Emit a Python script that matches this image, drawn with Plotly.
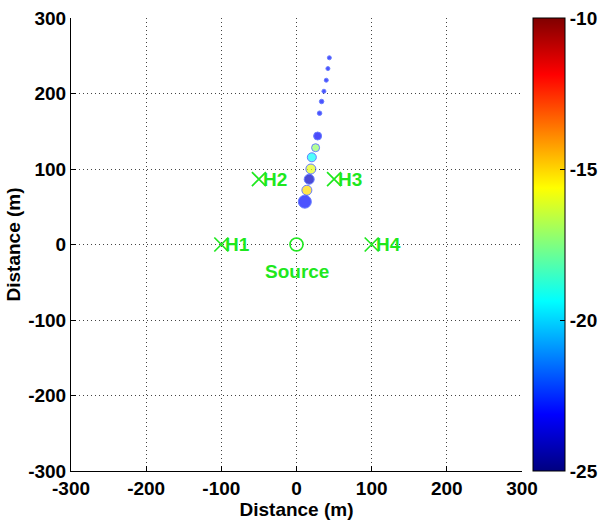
import plotly.graph_objects as go

# Event locations (m) and their magnitude values
event_x = [43.7, 41.8, 39.6, 36.5, 33.4, 30.7, 28.1, 25.4, 20.4, 19.1, 16.9, 13.8, 11.1]
event_y = [247.3, 233.0, 217.6, 203.0, 189.4, 173.9, 143.7, 128.2, 115.5, 100.0, 86.4, 71.9, 56.7]
event_val = [-23.0, -23.0, -23.0, -23.0, -23.0, -23.0, -23.2, -17.2, -19.3, -16.0, -24.0, -15.1, -23.0]
event_size = [4, 4, 4, 4, 4.5, 4.5, 8, 8, 9, 10, 10, 10, 13]

# Monitoring wells and source
well_names = ["H1", "H2", "H3", "H4"]
well_x = [-100, -50, 50, 100]
well_y = [0, 86.6, 86.6, 0]
source_x = [0]
source_y = [0]

axis_ticks = [-300, -200, -100, 0, 100, 200, 300]
cbar_ticks = [-25, -20, -15, -10]

jet = [
    [0.0, "rgb(0,0,128)"],
    [0.125, "rgb(0,0,255)"],
    [0.375, "rgb(0,255,255)"],
    [0.625, "rgb(255,255,0)"],
    [0.875, "rgb(255,0,0)"],
    [1.0, "rgb(128,0,0)"],
]

GREEN = "#1ee81e"
FONT = "Liberation Sans"
FS = 19


def bold_labels(vals):
    return [f"<b>{v}</b>" for v in vals]


fig = go.Figure()

fig.add_trace(go.Scatter(
    x=well_x, y=well_y, mode="markers",
    marker=dict(symbol="x-thin", size=14, line=dict(color=GREEN, width=1.7)),
    hoverinfo="skip", showlegend=False,
))
for name, wx, wy in zip(well_names, well_x, well_y):
    fig.add_annotation(x=wx, y=wy, text=f"<b>{name}</b>", showarrow=False,
                       xanchor="left", xshift=2,
                       font=dict(family=FONT, size=FS, color=GREEN))

fig.add_trace(go.Scatter(
    x=source_x, y=source_y, mode="markers",
    marker=dict(symbol="circle-open", size=13, color=GREEN, line=dict(width=1.6)),
    showlegend=False,
))
fig.add_annotation(x=0, y=0, text="<b>Source</b>", showarrow=False,
                   yshift=-27, font=dict(family=FONT, size=FS, color=GREEN))

fig.add_trace(go.Scatter(
    x=event_x, y=event_y, mode="markers",
    marker=dict(
        size=event_size, color=event_val, colorscale=jet, cmin=-25, cmax=-10,
        line=dict(color="#2a48ff", width=1),
        colorbar=dict(
            x=1.024, xanchor="left", xpad=0, ypad=0, y=0.5, yanchor="middle",
            len=1.0, lenmode="fraction", thickness=32, thicknessmode="pixels",
            tickvals=cbar_ticks, ticktext=bold_labels(cbar_ticks),
            ticks="inside", ticklen=5, tickcolor="black",
            outlinecolor="black", outlinewidth=1,
            tickfont=dict(family=FONT, size=FS, color="black"),
        ),
    ),
    showlegend=False,
))

axis_common = dict(
    range=[-300, 300], tickvals=axis_ticks, ticktext=bold_labels(axis_ticks),
    ticks="inside", ticklen=5,
    tickcolor="black", showline=True, linecolor="black", linewidth=1,
    showgrid=True, gridcolor="#444444", griddash="1px,3px", gridwidth=1,
    zeroline=False, mirror=False,
    tickfont=dict(family=FONT, size=FS, color="black"),
)

fig.update_xaxes(**axis_common,
                 title=dict(text="<b>Distance (m)</b>", standoff=0,
                            font=dict(family=FONT, size=FS, color="black")))
fig.update_yaxes(**axis_common,
                 title=dict(text="<b>Distance (m)</b>", standoff=2,
                            font=dict(family=FONT, size=FS, color="black")))

fig.update_layout(
    width=598, height=522,
    margin=dict(l=71, r=76, t=18, b=51, autoexpand=False),
    plot_bgcolor="white", paper_bgcolor="white",
)

fig.write_html("out.html")
